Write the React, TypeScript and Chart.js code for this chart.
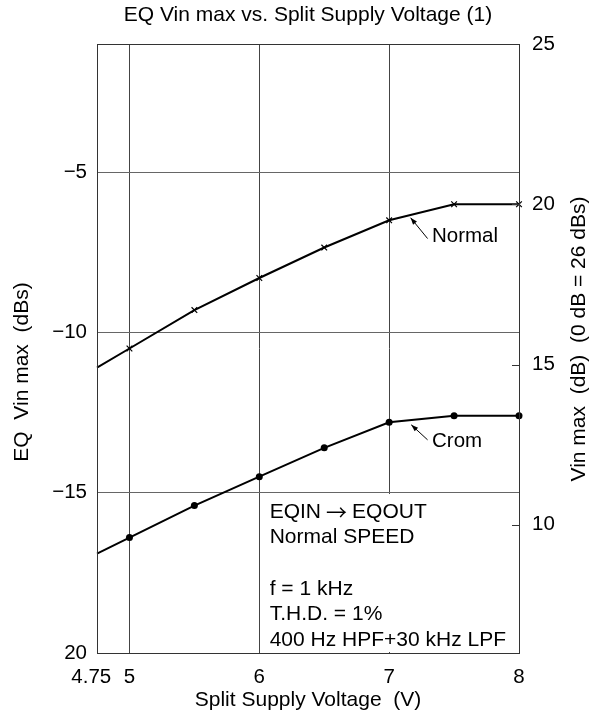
import React, { useEffect, useRef } from 'react';
import { Chart, registerables } from 'chart.js';

Chart.register(...registerables);

// ---- data ----
const supplyVoltage = [4.75, 5, 5.5, 6, 6.5, 7, 7.5, 8];
const normalVin = [-11.1, -10.5, -9.3, -8.3, -7.35, -6.5, -6.0, -6.0];
const cromVin = [-16.9, -16.4, -15.4, -14.5, -13.6, -12.8, -12.6, -12.6];
const markerShown = [false, true, true, true, true, true, true, true];

const xTicks = [4.75, 5, 6, 7, 8];
const xTickLabels = ['4.75  ', '5', '6', '7', '8'];
const leftTicks = [-20, -15, -10, -5];
const leftTickLabels = ['20', '\u221215', '\u221210', '\u22125'];
const rightTicks = [10, 15, 20, 25];
const rightTickLabels = ['10', '15', '20', '25'];

const titleText = 'EQ Vin max vs. Split Supply Voltage (1)';
const xTitle = 'Split Supply Voltage  (V)';
const yLeftTitle = 'EQ  Vin max  (dBs)';
const yRightTitle = 'Vin max  (dB)  (0 dB = 26 dBs)';
const conditionLines = ['EQIN \u2192 EQOUT', 'Normal SPEED', '', 'f = 1 kHz', 'T.H.D. = 1%', '400 Hz HPF+30 kHz LPF'];

// annotation anchors (data coordinates)
const boxX = [6, 8];
const boxY = [-20, -15];
const conditionX = 6.08;
const conditionY0 = -15.6;
const conditionStep = -0.8;
const normalLabel = { text: 'Normal', x: 7.33, y: -7.0, from: [7.296, -7.07], to: [7.165, -6.42] };
const cromLabel = { text: 'Crom', x: 7.33, y: -13.4, from: [7.296, -13.35], to: [7.17, -12.88] };

const FONT = '"Liberation Sans", Arial, Helvetica, sans-serif';
const FS = 20.5;
const FS_TEXT = 21;

function drawArrow(ctx: CanvasRenderingContext2D, x1: number, y1: number, x2: number, y2: number) {
  ctx.beginPath();
  ctx.moveTo(x1, y1);
  ctx.lineTo(x2, y2);
  ctx.stroke();
  const ang = Math.atan2(y2 - y1, x2 - x1);
  const L = 7, W = 2.5;
  ctx.beginPath();
  ctx.moveTo(x2, y2);
  ctx.lineTo(x2 - L * Math.cos(ang) + W * Math.sin(ang), y2 - L * Math.sin(ang) - W * Math.cos(ang));
  ctx.lineTo(x2 - L * Math.cos(ang) - W * Math.sin(ang), y2 - L * Math.sin(ang) + W * Math.cos(ang));
  ctx.closePath();
  ctx.fill();
}

function drawMixedLine(ctx: CanvasRenderingContext2D, line: string, x0: number, y0: number) {
  const parts = line.split('\u2192');
  let cx = x0;
  parts.forEach((p, i) => {
    const seg = p.trim();
    ctx.font = `${FS_TEXT}px ${FONT}`;
    ctx.fillText(seg, cx, y0);
    cx += ctx.measureText(seg).width;
    if (i < parts.length - 1) {
      cx += 5;
      ctx.font = `21px "Noto Sans CJK JP", "DejaVu Sans", sans-serif`;
      ctx.fillText('\u2192', cx, y0);
      cx += ctx.measureText('\u2192').width + 5;
    }
  });
  ctx.font = `${FS_TEXT}px ${FONT}`;
}

const overlayPlugin = {
  id: 'overlay',
  beforeDatasetsDraw(chart: any) {
    const { ctx, scales } = chart;
    const x = scales.x, y = scales.y;
    const l = Math.round(x.getPixelForValue(boxX[0])) + 1;
    const r = Math.round(x.getPixelForValue(boxX[1])) - 1;
    const t = Math.round(y.getPixelForValue(boxY[1])) + 1;
    const b = Math.round(y.getPixelForValue(boxY[0])) - 1;
    ctx.save();
    ctx.fillStyle = '#fff';
    ctx.fillRect(l, t, r - l, b - t);
    ctx.restore();
  },
  afterDraw(chart: any) {
    const { ctx, chartArea: a, scales } = chart;
    const x = scales.x, y = scales.y, y2 = scales.y2;
    ctx.save();
    // frame
    ctx.strokeStyle = '#333';
    ctx.lineWidth = 1;
    ctx.strokeRect(Math.round(a.left) + 0.5, Math.round(a.top) + 0.5, Math.round(a.right - a.left), Math.round(a.bottom - a.top));
    // right axis inward ticks
    ctx.beginPath();
    for (const v of rightTicks) {
      const py = Math.round(y2.getPixelForValue(v)) + 0.5;
      ctx.moveTo(a.right - 7, py);
      ctx.lineTo(a.right, py);
    }
    ctx.stroke();

    ctx.fillStyle = '#000';
    ctx.font = `${FS_TEXT}px ${FONT}`;
    // title
    ctx.textAlign = 'center';
    ctx.textBaseline = 'middle';
    ctx.fillText(titleText, (a.left + a.right) / 2, 15);
    // x title
    ctx.fillText(xTitle, (a.left + a.right) / 2, 700);
    // left title
    ctx.save();
    ctx.translate(22, 372);
    ctx.rotate(-Math.PI / 2);
    ctx.fillText(yLeftTitle, 0, 0);
    ctx.restore();
    // right title
    ctx.save();
    ctx.translate(579, 339);
    ctx.rotate(-Math.PI / 2);
    ctx.fillText(yRightTitle, 0, 0);
    ctx.restore();

    // condition text
    ctx.textAlign = 'left';
    conditionLines.forEach((line, i) => {
      if (!line) return;
      drawMixedLine(ctx, line, x.getPixelForValue(conditionX), y.getPixelForValue(conditionY0 + i * conditionStep));
    });

    // curve labels with arrows
    ctx.font = `${FS}px ${FONT}`;
    ctx.strokeStyle = '#000';
    ctx.lineWidth = 1;
    for (const lab of [normalLabel, cromLabel]) {
      ctx.fillText(lab.text, x.getPixelForValue(lab.x), y.getPixelForValue(lab.y));
      drawArrow(ctx,
        x.getPixelForValue(lab.from[0]), y.getPixelForValue(lab.from[1]),
        x.getPixelForValue(lab.to[0]), y.getPixelForValue(lab.to[1]));
    }
    ctx.restore();
  },
};

export default function App() {
  const ref = useRef<HTMLCanvasElement>(null);
  useEffect(() => {
    const canvas = ref.current!;
    const tickFont = { family: FONT, size: FS };
    const chart = new Chart(canvas, {
      type: 'line',
      data: {
        datasets: [
          {
            label: 'Normal',
            data: supplyVoltage.map((v, i) => ({ x: v, y: normalVin[i] })),
            yAxisID: 'y',
            borderColor: '#000',
            borderWidth: 2,
            pointStyle: 'crossRot',
            pointRadius: markerShown.map((s) => (s ? 4 : 0)),
            pointBorderWidth: 1.2,
            pointBorderColor: '#000',
            pointBackgroundColor: '#fff',
            tension: 0,
            clip: false as any,
          },
          {
            label: 'Crom',
            data: supplyVoltage.map((v, i) => ({ x: v, y: cromVin[i] })),
            yAxisID: 'y',
            borderColor: '#000',
            borderWidth: 2,
            pointStyle: 'circle',
            pointRadius: markerShown.map((s) => (s ? 3.5 : 0)),
            pointBorderWidth: 0,
            pointBackgroundColor: '#000',
            tension: 0,
            clip: false as any,
          },
        ],
      },
      options: {
        responsive: false,
        devicePixelRatio: 1,
        animation: false,
        events: [],
        layout: { padding: { top: 44, left: 0, right: 0, bottom: 0 } },
        plugins: { legend: { display: false }, tooltip: { enabled: false }, title: { display: false } },
        scales: {
          x: {
            type: 'linear',
            position: 'bottom',
            min: 4.75,
            max: 8,
            afterFit: (s: any) => { s.height = 62; },
            afterBuildTicks: (s: any) => { s.ticks = xTicks.map((v) => ({ value: v })); },
            ticks: {
              autoSkip: false,
              maxRotation: 0,
              padding: 12,
              color: '#000',
              font: tickFont,
              callback: (v: any) => xTickLabels[xTicks.indexOf(Number(v))],
            },
            grid: { color: '#444', lineWidth: 1, drawTicks: false },
            border: { display: false },
          },
          y: {
            type: 'linear',
            position: 'left',
            min: -20,
            max: -1,
            afterFit: (s: any) => { s.width = 97; },
            afterBuildTicks: (s: any) => { s.ticks = leftTicks.map((v) => ({ value: v })); },
            ticks: {
              padding: 10,
              color: '#000',
              font: tickFont,
              callback: (v: any) => leftTickLabels[leftTicks.indexOf(Number(v))],
            },
            grid: { color: '#666', lineWidth: 1, drawTicks: false },
            border: { display: false },
          },
          y2: {
            type: 'linear',
            position: 'right',
            min: 6,
            max: 25,
            afterFit: (s: any) => { s.width = 73; },
            afterBuildTicks: (s: any) => { s.ticks = rightTicks.map((v) => ({ value: v })); },
            ticks: {
              padding: 13,
              color: '#000',
              font: tickFont,
              callback: (v: any) => rightTickLabels[rightTicks.indexOf(Number(v))],
            },
            grid: { drawOnChartArea: false, drawTicks: false },
            border: { display: false },
          },
        },
      } as any,
      plugins: [overlayPlugin],
    });
    return () => chart.destroy();
  }, []);
  return (
    <div style={{ position: 'absolute', left: 0, top: 0, width: 592, height: 715, background: '#fff' }}>
      <canvas ref={ref} width={592} height={715} style={{ display: 'block', width: 592, height: 715 }} />
    </div>
  );
}
